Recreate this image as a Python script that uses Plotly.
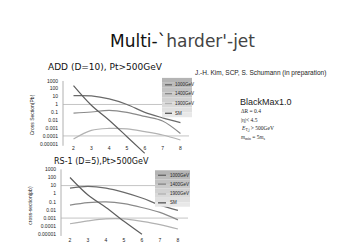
import plotly.graph_objects as go

W, H = 339, 246

multiplicity = [2, 3, 4, 5, 6, 7, 8]
series_names = ["1000GeV", "1400GeV", "1900GeV", "SM"]

add_1000 = [13, 12, 5, 1.0, 0.1, 0.02, 0.005]
add_1400 = [0.08, 0.11, 0.18, 0.1, 0.03, 0.008, 0.0002]
add_1900 = [4e-5, 5e-4, 9e-4, 8e-4, 3.5e-4, 1.3e-4, 3e-5]
add_sm = [250, 0.8, 0.01, 8e-5, 6e-7, None, None]

rs_1000 = [5, 8, 5, 1.5, 0.3, 0.04, 0.009]
rs_1400 = [0.04, 0.08, 0.1, 0.06, 0.02, 0.005, 0.0006]
rs_1900 = [2e-4, 4.5e-4, 8e-4, 8e-4, 4e-4, 1.6e-4, 4.5e-5]
rs_sm = [100, 0.7, 0.02, 4e-4, 1e-5, None, None]

ytick_vals = [1e3, 1e2, 10, 1, 0.1, 0.01, 0.001, 0.0001, 0.00001]
ytick_text = ["1000", "100", "10", "1", "0.1", "0.01", "0.001", "0.0001", "0.00001"]

colors = ["#6a6a6a", "#8a8a8a", "#b2b2b2", "#5e5e5e"]


def px(x):
    return x / W


def py(y):
    return 1 - y / H


fig = go.Figure()

top_data = [add_1000, add_1400, add_1900, add_sm]
bot_data = [rs_1000, rs_1400, rs_1900, rs_sm]

for name, vals, c in zip(series_names, top_data, colors):
    fig.add_trace(go.Scatter(x=multiplicity, y=vals, name=name, mode="lines",
                             line=dict(color=c, width=1.2, shape="spline"),
                             xaxis="x", yaxis="y", showlegend=False))
for name, vals, c in zip(series_names, bot_data, colors):
    fig.add_trace(go.Scatter(x=multiplicity, y=vals, name=name, mode="lines",
                             line=dict(color=c, width=1.2, shape="spline"),
                             xaxis="x2", yaxis="y2", showlegend=False))

tickfont = dict(family="Liberation Sans", size=5, color="#222")

fig.update_layout(
    width=W, height=H,
    margin=dict(l=0, r=0, t=0, b=0),
    paper_bgcolor="white", plot_bgcolor="rgba(0,0,0,0)",
    xaxis=dict(domain=[px(55), px(181)], range=[1.41, 8.48], tickvals=multiplicity,
               ticktext=[str(m) for m in multiplicity], showgrid=False, zeroline=False,
               showline=False, ticks="", tickfont=tickfont, anchor="y",
               ticklabelposition="inside"),
    yaxis=dict(domain=[py(145), py(71)], type="log", range=[-6.25, 3.0],
               tickvals=ytick_vals, ticktext=ytick_text, showgrid=False, zeroline=False,
               showline=False, ticks="", tickfont=tickfont, anchor="x",
               ticklabelstandoff=4),
    xaxis2=dict(domain=[px(53), px(180)], range=[1.5, 8.56], tickvals=multiplicity,
                ticktext=[str(m) for m in multiplicity], showgrid=False, zeroline=False,
                showline=False, ticks="", tickfont=tickfont, anchor="y2"),
    yaxis2=dict(domain=[py(229), py(160)], type="log", range=[-5.24, 3.12],
                tickvals=ytick_vals, ticktext=ytick_text, showgrid=False, zeroline=False,
                showline=False, ticks="", tickfont=tickfont, anchor="x2",
                ticklabelstandoff=4),
)

shapes = []
# gridlines
for yv in [1, 1e-4]:
    shapes.append(dict(type="line", xref="x domain", yref="y", x0=0, x1=1, y0=yv, y1=yv,
                       line=dict(color="#c4c4c4", width=1), layer="below"))
for yv in [10, 1e-3]:
    shapes.append(dict(type="line", xref="x2 domain", yref="y2", x0=0, x1=1, y0=yv, y1=yv,
                       line=dict(color="#c4c4c4", width=1), layer="below"))
# vertical axis lines
shapes.append(dict(type="line", xref="x domain", yref="y", x0=0, x1=0, y0=10 ** -5.25, y1=1e3,
                   line=dict(color="#b0b0b0", width=1), layer="below"))
shapes.append(dict(type="line", xref="x2 domain", yref="y2", x0=0, x1=0, y0=10 ** -5.2, y1=1e3,
                   line=dict(color="#b0b0b0", width=1), layer="below"))

annotations = []


def legend(x0, x1, y0, y1, rows, sx0, sx1, tx):
    n = 8
    for i in range(n):
        g = int(0xb4 + (0xe8 - 0xb4) * i / (n - 1))
        col = "#%02x%02x%02x" % (g, g, g)
        shapes.append(dict(type="rect", xref="paper", yref="paper", layer="above",
                           x0=px(x0), x1=px(x1),
                           y0=py(y0 + (y1 - y0) * (i + 1) / n), y1=py(y0 + (y1 - y0) * i / n),
                           line=dict(width=0), fillcolor=col))
    for name, c, ry in zip(series_names, colors, rows):
        shapes.append(dict(type="line", xref="paper", yref="paper", layer="above",
                           x0=px(sx0), x1=px(sx1), y0=py(ry), y1=py(ry),
                           line=dict(color=c, width=1.4)))
        annotations.append(dict(xref="paper", yref="paper", x=px(tx), y=py(ry), text=name,
                                showarrow=False, xanchor="left", yanchor="middle",
                                font=dict(family="Liberation Sans", size=4.5, color="#222")))


legend(154, 184, 68, 108, [75, 84, 94, 104], 157, 164, 165)
legend(147, 182, 162, 199, [167, 176, 186, 195], 150, 158, 160)

# titles
annotations.append(dict(xref="paper", yref="paper", x=px(175), y=py(31),
                        text="<span style='color:#111'>Multi-`</span><span style='color:#444'>harder'-jet</span>",
                        showarrow=False, xanchor="center", yanchor="middle",
                        font=dict(family="DejaVu Sans", size=17)))
annotations.append(dict(xref="paper", yref="paper", x=px(97), y=py(57),
                        text="ADD (D=10), Pt>500GeV", showarrow=False, xanchor="center",
                        yanchor="middle", font=dict(family="DejaVu Sans", size=9, color="#111")))
annotations.append(dict(xref="paper", yref="paper", x=px(93), y=py(153),
                        text="RS-1 (D=5),Pt>500GeV", showarrow=False, xanchor="center",
                        yanchor="middle", font=dict(family="DejaVu Sans", size=8, color="#111")))
annotations.append(dict(xref="paper", yref="paper", x=px(24), y=py(106),
                        text="Cross Section(Pb)", textangle=-90, showarrow=False,
                        xanchor="center", yanchor="middle",
                        font=dict(family="Liberation Sans", size=5, color="#222")))
annotations.append(dict(xref="paper", yref="paper", x=px(22), y=py(198),
                        text="cross-section(pb)", textangle=-90, showarrow=False,
                        xanchor="center", yanchor="middle",
                        font=dict(family="Liberation Sans", size=5, color="#222")))

# right side text
annotations.append(dict(xref="paper", yref="paper", x=px(185), y=py(63),
                        text="J.-H. Kim, SCP, S. Schumann (in preparation)", showarrow=False,
                        xanchor="left", yanchor="middle",
                        font=dict(family="Liberation Sans", size=6.5, color="#222")))
annotations.append(dict(xref="paper", yref="paper", x=px(230), y=py(92),
                        text="BlackMax1.0", showarrow=False, xanchor="left", yanchor="middle",
                        font=dict(family="Liberation Sans", size=9, color="#222")))
info_lines = ["ΔR = 0.4", "|η|< 4.5", "<i>E</i><sub>T,j</sub> > 500GeV",
              "<i>m</i><sub>min</sub> = 5<i>m</i><sub>s</sub>"]
for t, yy in zip(info_lines, [102, 111, 120, 129]):
    annotations.append(dict(xref="paper", yref="paper", x=px(231), y=py(yy), text=t,
                            showarrow=False, xanchor="left", yanchor="middle",
                            font=dict(family="Liberation Serif", size=5.5, color="#222")))

fig.update_layout(shapes=shapes, annotations=annotations)
fig.write_html("out.html")
